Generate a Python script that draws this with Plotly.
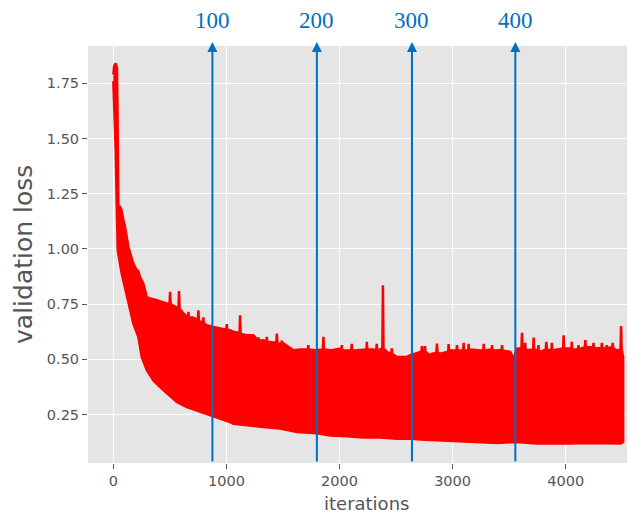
import plotly.graph_objects as go

# Upper envelope of the oscillating validation-loss curve (iteration, loss)
upper_iter = [0, 8, 20, 32, 37, 41, 44, 60, 70, 90, 104, 120, 133, 150, 163, 177, 200, 221, 236, 265,
              295, 325, 370, 420, 472, 497, 502, 507, 540, 576, 581, 586, 620, 660, 664, 668, 700,
              747, 752, 757, 792, 796, 800, 826, 885, 950, 999, 1003, 1007, 1032, 1060,
              1116, 1121, 1126, 1180, 1239, 1279, 1283, 1287, 1327, 1353, 1357, 1361,
              1441, 1446, 1451, 1485, 1489, 1493, 1504, 1593, 1650, 1720, 1724, 1728, 1785,
              1853, 1858, 1863, 1918, 2006, 2016, 2020, 2024, 2104, 2108, 2112, 2154,
              2238, 2242, 2246, 2300, 2325, 2329, 2333, 2379, 2384, 2389, 2419, 2458, 2462, 2466,
              2508, 2596, 2626, 2724, 2729, 2734, 2752, 2756, 2760, 2802, 2815, 2857, 2862, 2867,
              2891, 2961, 2965, 2969, 2980, 3035, 3039, 3043, 3094, 3098, 3102, 3138, 3142, 3146,
              3157, 3231, 3271, 3275, 3279, 3334, 3345, 3349, 3353, 3422, 3433, 3437, 3441,
              3510, 3540, 3570, 3609, 3614, 3619, 3638, 3642, 3646, 3658, 3712, 3717, 3722,
              3755, 3759, 3763, 3776, 3824, 3829, 3834, 3874, 3878, 3882, 3894, 3977, 3982, 3987,
              4042, 4050, 4054, 4058, 4109, 4113, 4117, 4169, 4174, 4179, 4234, 4242, 4246, 4250,
              4307, 4316, 4320, 4324, 4359, 4363, 4367, 4396, 4412, 4416, 4420, 4455,
              4485, 4490, 4495, 4508]
upper_loss = [1.79, 1.83, 1.84, 1.82, 1.63, 1.45, 1.20, 1.19, 1.18, 1.13, 1.10, 1.05, 1.01, 0.98, 0.96,
              0.934, 0.91, 0.90, 0.873, 0.844, 0.783, 0.776, 0.77, 0.76, 0.753, 0.75, 0.806, 0.75,
              0.74, 0.73, 0.81, 0.73, 0.708, 0.69, 0.715, 0.69, 0.69,
              0.68, 0.722, 0.675, 0.665, 0.69, 0.665, 0.655, 0.647, 0.64, 0.635, 0.66, 0.635, 0.632,
              0.625,
              0.62, 0.70, 0.615, 0.609, 0.609, 0.585, 0.60, 0.585, 0.587, 0.58, 0.602, 0.58,
              0.575, 0.617, 0.575, 0.565, 0.585, 0.565, 0.572, 0.541, 0.545, 0.545, 0.565, 0.545,
              0.541,
              0.545, 0.602, 0.545, 0.541, 0.549, 0.54, 0.565, 0.54, 0.54, 0.57, 0.54, 0.541,
              0.545, 0.58, 0.545, 0.545, 0.54, 0.57, 0.54, 0.55, 0.836, 0.55, 0.534, 0.525, 0.55,
              0.525,
              0.511, 0.511, 0.519, 0.535, 0.56, 0.535, 0.535, 0.56, 0.535, 0.519, 0.525, 0.53,
              0.572, 0.53,
              0.526, 0.535, 0.57, 0.535, 0.54, 0.54, 0.565, 0.54, 0.54, 0.575, 0.54, 0.54, 0.57,
              0.54,
              0.545, 0.541, 0.54, 0.57, 0.54, 0.545, 0.54, 0.565, 0.54, 0.541, 0.54, 0.565, 0.54,
              0.534, 0.504, 0.549, 0.55, 0.620, 0.55, 0.545, 0.575, 0.545, 0.541, 0.545, 0.599,
              0.545,
              0.54, 0.565, 0.54, 0.534, 0.545, 0.579, 0.545, 0.54, 0.575, 0.54, 0.541, 0.55, 0.609,
              0.55,
              0.549, 0.545, 0.58, 0.545, 0.545, 0.565, 0.545, 0.555, 0.587, 0.555, 0.556, 0.55,
              0.575, 0.55,
              0.55, 0.55, 0.575, 0.55, 0.55, 0.565, 0.55, 0.555, 0.55, 0.575, 0.55, 0.541,
              0.545, 0.651, 0.545, 0.511]

# Lower envelope of the curve (iteration, loss)
lower_iter = [0, 21, 30, 39, 59, 74, 119, 177, 221, 251, 296, 354, 413, 473, 561, 650, 767, 856, 944,
              1032, 1062, 1180, 1327, 1475, 1623, 1770, 1814, 1918, 2065, 2212, 2360, 2508, 2641,
              2716, 2891, 3157, 3393, 3555, 3747, 4042, 4190, 4484, 4508]
lower_loss = [1.76, 1.448, 1.206, 0.994, 0.934, 0.889, 0.783, 0.662, 0.602, 0.511, 0.451, 0.405,
              0.375, 0.345, 0.307, 0.284, 0.262, 0.247, 0.232, 0.216, 0.209, 0.201, 0.194, 0.187,
              0.171, 0.167, 0.164, 0.156, 0.152, 0.146, 0.146, 0.141, 0.141, 0.137, 0.130, 0.126,
              0.121, 0.126, 0.119, 0.119, 0.121, 0.119, 0.126]

# Epoch markers
arrow_iter = [876, 1800, 2641, 3555]
arrow_labels = ["100", "200", "300", "400"]

x_ticks = [0, 1000, 2000, 3000, 4000]
y_ticks = [0.25, 0.50, 0.75, 1.00, 1.25, 1.50, 1.75]

RED = "#FF0000"
BLUE = "#0070C0"
GRAY = "#555555"

fig = go.Figure()
fig.add_trace(go.Scatter(
    x=upper_iter + lower_iter[::-1],
    y=upper_loss + lower_loss[::-1],
    mode="lines", fill="toself", fillcolor=RED,
    line=dict(color=RED, width=2.5),
    hoverinfo="skip", showlegend=False,
))

axis_common = dict(
    showgrid=True, gridcolor="white", gridwidth=1.3,
    zeroline=False, showline=False, automargin=False,
    ticks="outside", ticklen=5, tickwidth=1, tickcolor=GRAY,
    tickfont=dict(family="DejaVu Sans", size=14.5, color=GRAY),
)

# The page body has an 8px default margin, so the figure is sized to fill the rest of the window.
fig.update_layout(
    width=627, height=510,
    margin=dict(l=80, r=0, t=38, b=55, pad=0),
    paper_bgcolor="white", plot_bgcolor="#E5E5E5",
    xaxis=dict(range=[-224, 4613], tickvals=x_ticks, ticktext=[str(v) for v in x_ticks], **axis_common),
    yaxis=dict(range=[0.031, 1.919], tickvals=y_ticks, ticktext=[f"{v:.2f}" for v in y_ticks], **axis_common),
    showlegend=False,
)

annotations = [
    dict(text="iterations", xref="paper", yref="paper", x=0.510, y=-0.098,
         xanchor="center", yanchor="middle", showarrow=False,
         font=dict(family="DejaVu Sans", size=18, color=GRAY)),
    dict(text="validation loss", xref="paper", yref="paper", x=-0.118, y=0.5,
         xanchor="center", yanchor="middle", textangle=-90, showarrow=False,
         font=dict(family="DejaVu Sans", size=25, color=GRAY)),
]
for it, lab in zip(arrow_iter, arrow_labels):
    annotations.append(dict(
        text="", x=it, xref="x", y=1.0096, yref="paper",
        ax=0, ay=421, axref="pixel", ayref="pixel",
        showarrow=True, arrowhead=2, arrowsize=1, arrowwidth=2, arrowcolor=BLUE,
        standoff=0, startstandoff=0,
    ))
    annotations.append(dict(
        text=lab, x=it, xref="x", y=1.062, yref="paper",
        xanchor="center", yanchor="middle", showarrow=False,
        font=dict(family="Liberation Serif", size=23, color=BLUE),
    ))
fig.update_layout(annotations=annotations)

fig.write_html("out.html")
